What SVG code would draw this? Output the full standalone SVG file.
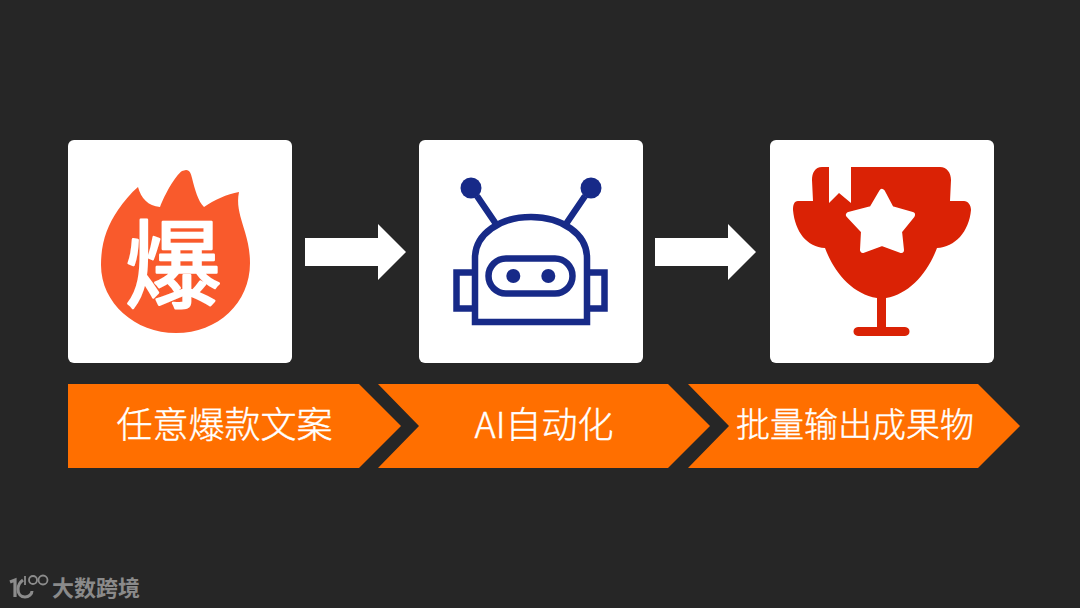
<svg xmlns="http://www.w3.org/2000/svg" width="1080" height="608" viewBox="0 0 1080 608">
<style>
.card{fill:#fff}
.chev{fill:#ff6f00}
.lab{font-family:"Noto Sans CJK SC","Noto Sans",sans-serif;font-size:36px;font-weight:300;fill:#fff;stroke:#fff;stroke-width:.4;text-anchor:middle}
.rb{fill:none;stroke:#172a88;stroke-width:6.500}
</style>
<rect width="1080" height="608" fill="#262626"/>
<g id="connectors" fill="#fff">
<polygon points="305,238 378,238 378,224 406,252 378,280 378,266 305,266"/>
<polygon points="655,238 728,238 728,224 756,252 728,280 728,266 655,266"/>
</g>
<g id="node-hot">
<rect class="card" x="68" y="140" width="224" height="223" rx="6"/>
<path d="M186,170C190,170 191,174 192,178C195,190 198,201 204,207C214,200 227,194 239,192C236,206 241,218 245,232C248,242 250,252 250,263C250,303 218,333 176,333C135,333 101,303 101,265C101,243 107,226 118,210C124,201 131,193 138,187C141,198 148,206 160,207C165,194 175,176 182,171Z" fill="#f95a2c"/>
<text x="173" y="300" font-family="'Noto Sans CJK SC',sans-serif" font-size="96" font-weight="400" fill="#fff" stroke="#fff" stroke-width="2.500" stroke-linejoin="round" stroke-linecap="round" text-anchor="middle">爆</text>
</g>
<g id="node-ai">
<rect class="card" x="419" y="140" width="224" height="223" rx="6"/>
<circle cx="471" cy="188" r="10.500" fill="#172a88"/>
<circle cx="591" cy="188" r="10.500" fill="#172a88"/>
<path class="rb" d="M477,196L496,224M585,196L566,224"/>
<path class="rb" d="M475,322V258C475,234 500,217 531,217C562,217 587,234 587,258V322Z"/>
<rect class="rb" x="488.500" y="258.500" width="84" height="35" rx="17.500"/>
<circle cx="513.300" cy="276" r="7" fill="#172a88"/>
<circle cx="548.300" cy="276" r="7" fill="#172a88"/>
<path class="rb" d="M473,272.500H456.500V308.500H473M589,272.500H604.500V308.500H589"/>
</g>
<g id="node-trophy">
<rect class="card" x="770" y="140" width="224" height="223" rx="6"/>
<path d="M829,167V203L839,193L851,203V167H940C947,167 951,173 951,180L950,201H964C968,201 971,205 971,210C969,232 955,247 937,248C928,272 910,294 886,298V327H905C911,327 911,336 905,336H858C852,336 852,327 858,327H877V298C852,294 834,272 825,248C807,247 795,232 793,210C793,205 794,201 798,201H813L812,180C812,173 815,167 822,167Z" fill="#da2205"/>
<polygon points="882,192 891,209 912,215 899,231 901,250 882,243 863,250 864,231 849,215 872,209" fill="#fff" stroke="#fff" stroke-width="6" stroke-linejoin="round"/>
</g>
<g id="step-1"><polygon class="chev" points="68,384 359,384 401,426 359,468 68,468"/><text class="lab" x="224.500" y="438">任意爆款文案</text></g>
<g id="step-2"><polygon class="chev" points="378,384 668,384 710,426 668,468 378,468 419,426"/><text class="lab" x="544" y="438">AI自动化</text></g>
<g id="step-3"><polygon class="chev" points="688,384 978,384 1020,426 978,468 688,468 729,426"/><text class="lab" x="855" y="437" style="font-size:34px">批量输出成果物</text></g>
<g id="watermark">
<g fill="none" stroke="#8c8c8c" stroke-width="1.800">
<path d="M10,582L15,580V597" stroke-width="3.200"/>
<path d="M23,580C19,583 18,586 18,589C18,594 21,597 25,597C29,597 32,594 32,591" stroke-width="3"/>
<path d="M25,576V585"/>
<circle cx="33" cy="580" r="4"/>
<circle cx="43" cy="580" r="4.500"/>
</g>
<text x="52" y="596" font-family="'Noto Sans CJK SC',sans-serif" font-size="22" font-weight="700" fill="#8a8a8a">大数跨境</text>
</g>
</svg>
